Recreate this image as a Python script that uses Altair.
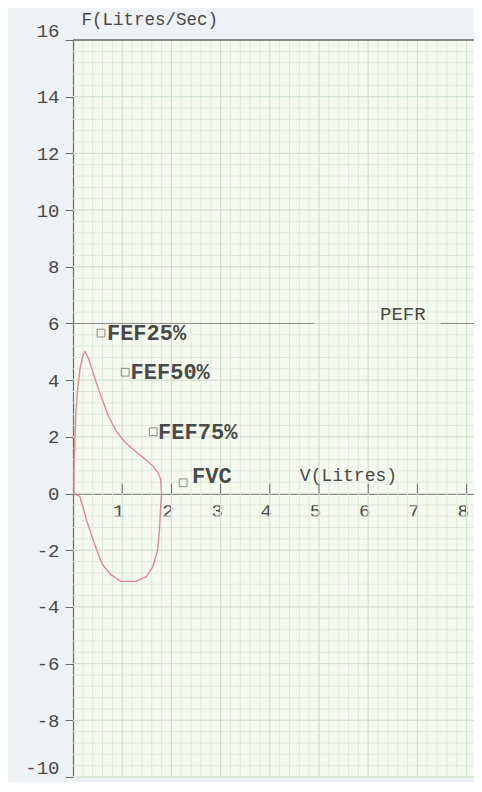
import altair as alt
import pandas as pd
import numpy as np

# ---- data ----
loop_v = [0.02, 0.02, 0.04, 0.06, 0.10, 0.14, 0.20, 0.24, 0.30, 0.40, 0.53, 0.73, 0.89, 1.07,
          1.27, 1.47, 1.62, 1.72, 1.78, 1.80,
          1.78, 1.76, 1.72, 1.62, 1.49, 1.27, 0.97, 0.77, 0.59, 0.44, 0.28, 0.14, 0.02]
loop_f = [0.00, 0.86, 1.90, 2.93, 3.79, 4.38, 4.86, 5.00, 4.83, 4.31, 3.62, 2.69, 2.17, 1.79,
          1.48, 1.21, 0.97, 0.76, 0.52, 0.00,
          -0.52, -1.21, -2.00, -2.59, -2.93, -3.10, -3.10, -2.86, -2.48, -1.79, -0.97, -0.10, 0.00]

marker_labels = ["FEF25%", "FEF50%", "FEF75%", "FVC"]
marker_v = [0.57, 1.06, 1.63, 2.24]
marker_f = [5.66, 4.28, 2.18, 0.38]
label_v = [0.69, 1.17, 1.73, 2.42]
label_f = [5.66, 4.28, 2.18, 0.62]

pefr_label = "PEFR"
pefr_level = 6.0
pefr_seg_start = [0.0, 7.48]
pefr_seg_end = [4.9, 8.15]

x_ticks = [1, 2, 3, 4, 5, 6, 7, 8]
y_ticks = [-10, -8, -6, -4, -2, 0, 2, 4, 6, 8, 10, 12, 14, 16]

x_title = "V(Litres)"
y_title = "F(Litres/Sec)"

FONT = "Liberation Mono"
TXT = "#484848"
XMAX = 8.15
YMIN, YMAX = -10, 16
W, H = 401, 737
PAD_TOP = 32

xs = alt.Scale(domain=[0, XMAX], nice=False, zero=False)
ys = alt.Scale(domain=[YMIN, YMAX], nice=False, zero=False)

# ---- graph-paper grid ----
vminor = pd.DataFrame({"v": np.round(np.arange(0.2, XMAX, 0.2), 2)})
hminor = pd.DataFrame({"f": np.round(np.arange(YMIN, YMAX, 0.4), 2)})
vmajor = pd.DataFrame({"v": list(range(1, 9))})
hmajor = pd.DataFrame({"f": list(range(YMIN, YMAX, 2))})

g1 = alt.Chart(vminor).mark_rule(color="#e0eadb", strokeWidth=1).encode(x=alt.X("v:Q", scale=xs))
g2 = alt.Chart(hminor).mark_rule(color="#e0eadb", strokeWidth=1).encode(y=alt.Y("f:Q", scale=ys))
g3 = alt.Chart(vmajor).mark_rule(color="#d2e0cf", strokeWidth=1).encode(x=alt.X("v:Q", scale=xs))
g4 = alt.Chart(hmajor).mark_rule(color="#d2e0cf", strokeWidth=1).encode(y=alt.Y("f:Q", scale=ys))

# ---- axes ----
axis_df = pd.DataFrame({"v": [0.0], "f": [0.0]})
base_axes = alt.Chart(axis_df).mark_point(opacity=0).encode(
    x=alt.X("v:Q", scale=xs, axis=alt.Axis(
        values=x_ticks, labelExpr="'' + datum.value", title=None, orient="bottom",
        offset=-(H - (YMAX - 0) * H / (YMAX - YMIN)),
        ticks=False, domainColor="#6a6a6a", domainWidth=1.2,
        labelFont=FONT, labelFontSize=19, labelColor=TXT, labelPadding=8,
        labelOffset=-4, labelFlush=False, labelOverlap=False, grid=False)),
    y=alt.Y("f:Q", scale=ys, axis=alt.Axis(
        values=y_ticks, labelExpr="'' + datum.value", orient="left",
        title=y_title, titleAngle=0, titleAlign="left", titleBaseline="alphabetic",
        titleX=8, titleY=-16, titleFont=FONT, titleFontSize=17.5,
        titleFontWeight="normal", titleColor=TXT,
        tickSize=8, tickColor="#6a6a6a", domainColor="#6a6a6a", domainWidth=1.2,
        labelFont=FONT, labelFontSize=19, labelColor=TXT, labelPadding=6,
        labelBaseline={"condition": {"test": "datum.value == -10 || datum.value == 16",
                                     "value": "bottom"}, "value": "middle"},
        labelOverlap=False, grid=False)),
)

xtick_df = pd.DataFrame({"v": x_ticks, "f0": [0.0] * len(x_ticks), "f1": [0.35] * len(x_ticks)})
xticks = alt.Chart(xtick_df).mark_rule(color="#6a6a6a", strokeWidth=1).encode(
    x=alt.X("v:Q", scale=xs), y=alt.Y("f0:Q", scale=ys), y2="f1:Q")

top_border = alt.Chart(pd.DataFrame({"f": [YMAX]})).mark_rule(
    color="#666666", strokeWidth=1.4).encode(y=alt.Y("f:Q", scale=ys))

pefr_df = pd.DataFrame({"v0": pefr_seg_start, "v1": pefr_seg_end, "f": [pefr_level] * 2})
pefr_line = alt.Chart(pefr_df).mark_rule(color="#8c8c8c", strokeWidth=1).encode(
    x=alt.X("v0:Q", scale=xs), x2="v1:Q", y=alt.Y("f:Q", scale=ys))

pefr_text = alt.Chart(pd.DataFrame({"v": [6.24], "f": [6.32], "t": [pefr_label]})).mark_text(
    font=FONT, fontSize=19, color=TXT, align="left", baseline="middle").encode(
    x=alt.X("v:Q", scale=xs), y=alt.Y("f:Q", scale=ys), text="t:N")

xtitle = alt.Chart(pd.DataFrame({"v": [4.61], "f": [0.62], "t": [x_title]})).mark_text(
    font=FONT, fontSize=18, color=TXT, align="left", baseline="middle").encode(
    x=alt.X("v:Q", scale=xs), y=alt.Y("f:Q", scale=ys), text="t:N")

# ---- flow-volume loop ----
loop_df = pd.DataFrame({"v": loop_v, "f": loop_f, "o": list(range(len(loop_v)))})
loop = alt.Chart(loop_df).mark_line(color="#de8a90", strokeWidth=1.4).encode(
    x=alt.X("v:Q", scale=xs), y=alt.Y("f:Q", scale=ys), order="o:Q")

mk_df = pd.DataFrame({"v": marker_v, "f": marker_f, "lv": label_v, "lf": label_f,
                      "t": marker_labels})
markers = alt.Chart(mk_df).mark_point(shape="square", filled=False, size=60,
                                      color="#606060", strokeWidth=1).encode(
    x=alt.X("v:Q", scale=xs), y=alt.Y("f:Q", scale=ys))
mtext = alt.Chart(mk_df).mark_text(font=FONT, fontSize=22, fontWeight="bold", color="#4a4a4a",
                                   align="left", baseline="middle").encode(
    x=alt.X("lv:Q", scale=xs), y=alt.Y("lf:Q", scale=ys), text="t:N")

chart = alt.layer(g1, g2, g3, g4, base_axes, top_border, pefr_line, xticks,
                  loop, markers, mtext, pefr_text, xtitle).properties(
    width=W, height=H, autosize="none",
    padding={"left": 65, "top": PAD_TOP, "right": 0, "bottom": 5},
    background="#eff2f5",
).configure_view(fill="#f6f9ef", stroke=None)

chart.save("out.html", embed_options={"renderer": "svg", "actions": False})
